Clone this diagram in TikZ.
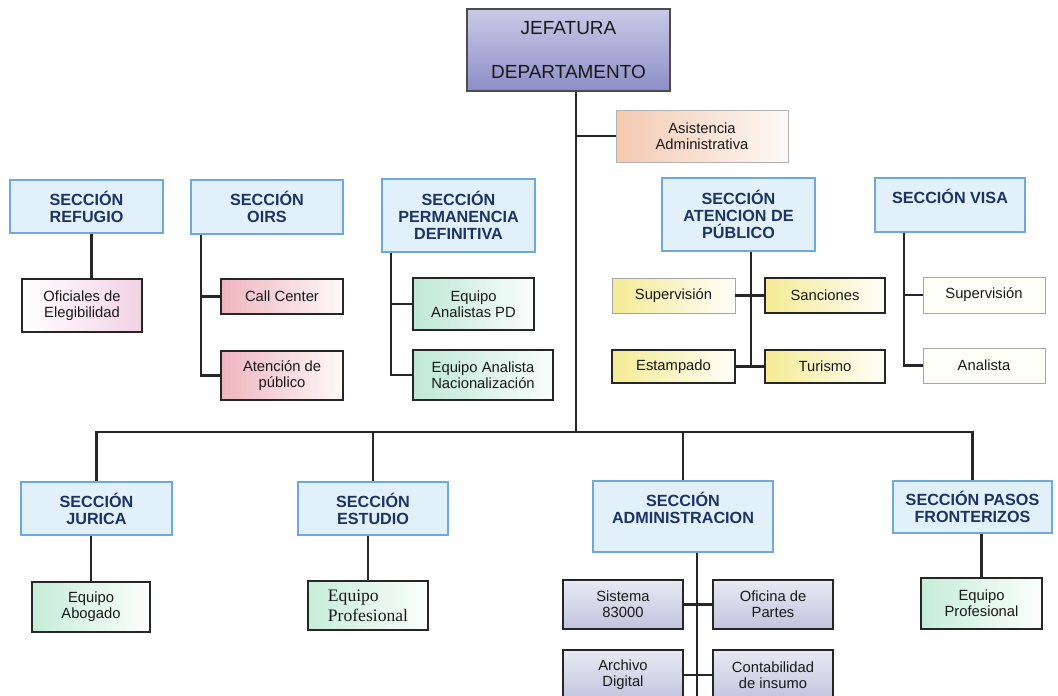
\documentclass[tikz,border=0pt]{standalone}
\usepackage{fontspec}
\setmainfont{Liberation Sans}
\newfontfamily\serifbox{Liberation Serif}
\usetikzlibrary{calc}
\def\pxu{0.025cm}
\definecolor{secblue}{HTML}{6FA8DC}
\definecolor{secfill}{HTML}{E2F1F9}
\definecolor{sectext}{HTML}{1E3264}
\definecolor{jeftop}{HTML}{CACAE8}
\definecolor{jefbot}{HTML}{8C8EC6}
\definecolor{lavtop}{HTML}{E9E9F3}
\definecolor{lavbot}{HTML}{C2C4DE}
\definecolor{peach}{HTML}{F4C9B0}
\definecolor{pinkl}{HTML}{EFB5BE}
\definecolor{tealf}{HTML}{BDE8D8}
\definecolor{yelf}{HTML}{F5EB94}
\definecolor{greenf}{HTML}{C6EDDA}
\definecolor{ofpink}{HTML}{F2D2E4}
\tikzset{
  sz/.style 2 args={minimum width=#1*\pxu,minimum height=#2*\pxu},
  box/.style={draw=black!85,line width=1.1pt,inner sep=0pt,align=center,
    font=\fontsize{10.5}{11.5}\selectfont,text=black!90},
  secbox/.style={draw=secblue,line width=0.9pt,fill=secfill,inner sep=0pt,align=center,
    font=\fontsize{11.5}{12}\selectfont\bfseries,text=sectext},
  pinkbox/.style={box,left color=pinkl,right color=pinkl!8},
  tealbox/.style={box,left color=tealf,right color=tealf!8},
  yelbox/.style={box,left color=yelf,right color=yelf!6},
  greenbox/.style={box,left color=greenf,right color=greenf!6},
  lavbox/.style={box,top color=lavtop,bottom color=lavbot},
  palebox/.style={box,draw=black!35,line width=0.6pt,fill=yellow!3},
  link/.style={line width=1.5pt,black!85},
}
\begin{document}
\begin{tikzpicture}[x=0.025cm,y=-0.025cm]
		%%%%% START %%%%%
		\clip (0,0) rectangle (1058,696);
		\fill[white] (0,0) rectangle (1058,696);
		
		% top
		\node[box, sz={203}{82}, top color=jeftop, bottom color=jefbot,
		  draw=black!70, font=\fontsize{13.5}{31}\selectfont] (jef) at (568.5,50) {JEFATURA\\DEPARTAMENTO};
		\node[box, sz={172}{52}, draw=black!30, line width=0.6pt, left color=peach, right color=peach!10,
		  font=\fontsize{10.5}{11}\selectfont] (asis) at (702,136) {Asistencia\\Administrativa};
		\coordinate (spine) at (576,432);
		
		% upper sections
		\node[secbox, sz={153}{53}] (refugio) at (86.5,206.5) {SECCIÓN\\REFUGIO};
		\node[secbox, sz={152}{54}] (oirs) at (267,207) {SECCIÓN\\OIRS};
		\node[secbox, sz={153}{73}] (perm) at (458.5,215.5) {SECCIÓN\\PERMANENCIA\\DEFINITIVA};
		\node[secbox, sz={153}{73}] (atenc) at (738.5,214.5) {SECCIÓN\\ATENCION DE\\PÚBLICO};
		\node[secbox, sz={150}{54}] (visa) at (950,205) {SECCIÓN VISA\\\mbox{}};
		
		\node[box, sz={120}{53}, left color=white, right color=ofpink] (ofic) at (82,305.5) {Oficiales de\\Elegibilidad};
		\node[pinkbox, sz={122}{35}] (call) at (282,296.5) {Call Center};
		\node[pinkbox, sz={122}{49}] (atpub) at (282,375.5) {Atención de\\público};
		\node[tealbox, sz={121}{52}] (eqpd) at (473.5,304) {Equipo\\Analistas PD};
		\node[tealbox, sz={140}{50}] (eqnac) at (483,375) {Equipo Analista\\Nacionalización};
		\node[yelbox, sz={123}{35}, draw=black!35, line width=0.6pt] (sup1) at (673.5,295.5) {Supervisión};
		\node[yelbox, sz={120}{35}] (sanc) at (825,295.5) {Sanciones};
		\node[yelbox, sz={123}{33}] (estam) at (673.5,366.5) {Estampado};
		\node[yelbox, sz={120}{33}] (turis) at (825,366.5) {Turismo};
		\node[palebox, sz={122}{36}] (sup2) at (984,295) {Supervisión};
		\node[palebox, sz={122}{35}] (anal) at (984,365.5) {Analista};
		
		% lower sections
		\node[secbox, sz={151}{53}] (jur) at (96.5,508.5) {SECCIÓN\\JURICA};
		\node[secbox, sz={150}{53}] (estud) at (373,508.5) {SECCIÓN\\ESTUDIO};
		\node[secbox, sz={180}{71}] (admin) at (683,516.5) {SECCIÓN\\ADMINISTRACION\\\mbox{}};
		\node[secbox, sz={159}{52}] (pasos) at (972.5,507) {SECCIÓN PASOS\\FRONTERIZOS};
		
		\node[greenbox, sz={118}{50}] (abog) at (91,607) {Equipo\\Abogado};
		\node[greenbox, sz={120}{49}, align=left, font=\serifbox\fontsize{12.5}{14}\selectfont] (prof1) at (368,605.5) {Equipo\\Profesional};
		\node[lavbox, sz={120}{49}] (sist) at (623,604.5) {Sistema\\83000};
		\node[lavbox, sz={120}{49}] (ofpar) at (773,604.5) {Oficina de\\Partes};
		\node[lavbox, sz={120}{50}] (arch) at (623,675) {Archivo\\Digital};
		\node[lavbox, sz={120}{50}] (cont) at (773,675) {Contabilidad\\de insumo};
		\node[greenbox, sz={121}{51}] (prof2) at (981.5,603.5) {Equipo\\Profesional};
		
		% connectors
		\draw[link] (jef.south -| spine) -- (spine);
		\draw[link] (spine |- asis.west) -- (asis.west);
		\draw[link] (jur.north) -- (jur.north |- spine) -- (pasos.north |- spine) -- (pasos.north);
		\draw[link] (estud.north) -- (estud.north |- spine);
		\draw[link] (admin.north) -- (admin.north |- spine);
		
		\coordinate (refbar) at ($(refugio.south)+(5,0)$);
		\draw[link] (refbar) -- (refbar |- ofic.north);
		\coordinate (oirsbar) at ($(oirs.south west)+(11,0)$);
		\draw[link] (oirsbar) |- (atpub.west);
		\draw[link] (oirsbar |- call.west) -- (call.west);
		\coordinate (permbar) at ($(perm.south west)+(10,0)$);
		\draw[link] (permbar) |- (eqnac.west);
		\draw[link] (permbar |- eqpd.west) -- (eqpd.west);
		\coordinate (atbar) at ($(atenc.south)+(12.5,0)$);
		\draw[link] (atbar) -- (atbar |- estam.east);
		\draw[link] (sup1.east) -- (sanc.west);
		\draw[link] (estam.east) -- (turis.west);
		\coordinate (visabar) at ($(visa.south west)+(30,0)$);
		\draw[link] (visabar) |- (anal.west);
		\draw[link] (visabar |- sup2.west) -- (sup2.west);
		
		\draw[link] (abog.north) -- (abog.north |- jur.south);
		\draw[link] (prof1.north) -- (prof1.north |- estud.south);
		\draw[link] (prof2.north) -- (prof2.north |- pasos.south);
		\coordinate (admbar) at ($(admin.south)+(14,0)$);
		\draw[link] (admbar) -- (admbar |- 0,696);
		\draw[link] (sist.east) -- (ofpar.west);
		\draw[link] (arch.east) -- (cont.west);
		
		%%%%% END %%%%%
	\end{tikzpicture}
\end{document}
